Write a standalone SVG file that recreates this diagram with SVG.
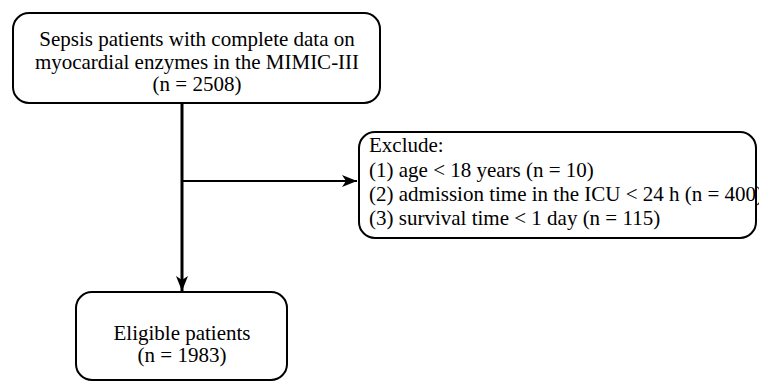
<svg xmlns="http://www.w3.org/2000/svg" width="759" height="381" viewBox="0 0 759 381">
<style>
.box{fill:#fff;stroke:#000;stroke-width:2}
.t{font-family:"Liberation Serif","Times New Roman",serif;font-size:21px;fill:#000}
.c{text-anchor:middle}
.ln{stroke:#000;fill:none}
</style>
<defs>
<marker id="ah" viewBox="0 0 15 12" refX="15" refY="6" markerWidth="15" markerHeight="12" markerUnits="userSpaceOnUse" orient="auto">
<path d="M0,0 L15,6 L0,12 L4,6 Z" fill="#000"/>
</marker>
</defs>
<g id="connectors">
<line class="ln" x1="182" y1="103" x2="182" y2="291" stroke-width="3" marker-end="url(#ah)"/>
<line class="ln" x1="182" y1="181" x2="357" y2="181" stroke-width="2" marker-end="url(#ah)"/>
</g>
<g id="n1">
<rect class="box" x="13" y="13" width="367" height="90" rx="16"/>
<text class="t c" x="197" y="46">Sepsis patients with complete data on</text>
<text class="t c" x="197" y="68.5">myocardial enzymes in the MIMIC-III</text>
<text class="t c" x="197" y="91">(n = 2508)</text>
</g>
<g id="n2">
<rect class="box" x="359" y="132" width="397" height="106" rx="16"/>
<text class="t" x="369" y="152">Exclude:</text>
<text class="t" x="369" y="176.5">(1) age &lt; 18 years (n = 10)</text>
<text class="t" x="369" y="200.5">(2) admission time in the ICU &lt; 24 h (n = 400)</text>
<text class="t" x="369" y="224.5">(3) survival time &lt; 1 day (n = 115)</text>
</g>
<g id="n3">
<rect class="box" x="76" y="292" width="211" height="88" rx="16"/>
<text class="t c" x="182" y="340">Eligible patients</text>
<text class="t c" x="182" y="362">(n = 1983)</text>
</g>
</svg>
